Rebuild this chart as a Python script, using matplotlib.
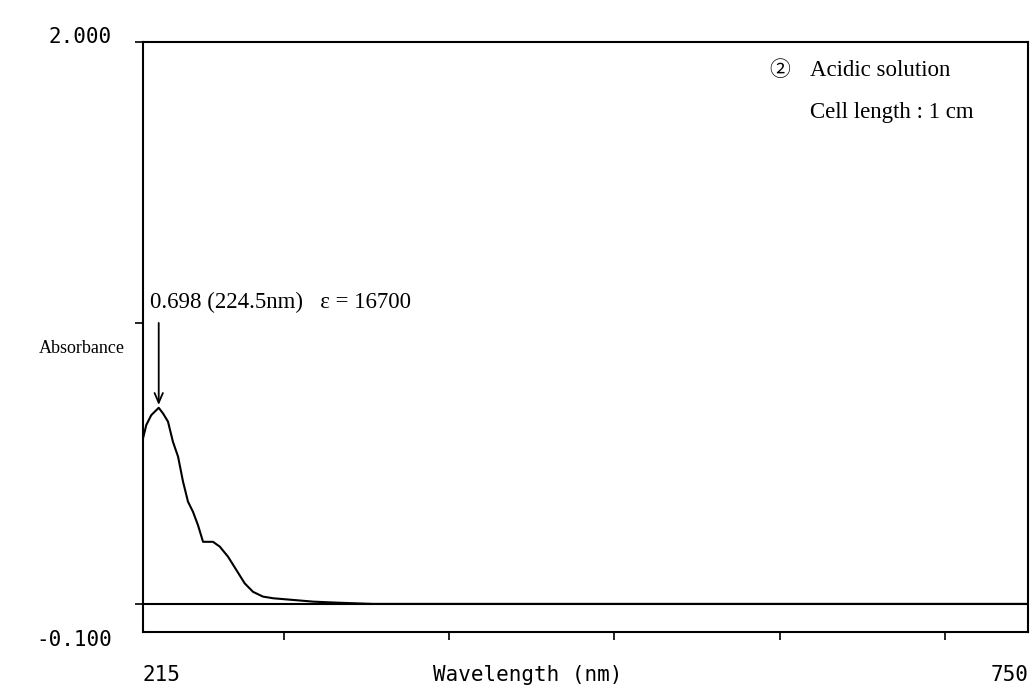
import matplotlib
matplotlib.use("Agg")
import matplotlib.pyplot as plt

# spectrum
wavelength = [215, 217.0, 220.0, 224.5, 227.1, 230.1, 233.1, 236.2, 239.2, 242.2,
              245.2, 248.2, 251.3, 257.3, 261.4, 266.4, 271.4, 276.5, 281.5, 287.5,
              293.8, 305.9, 318, 334, 354, 400, 500, 600, 700, 750]
absorbance = [0.589, 0.637, 0.672, 0.698, 0.678, 0.649, 0.577, 0.524, 0.435, 0.364,
              0.328, 0.281, 0.221, 0.221, 0.204, 0.168, 0.121, 0.073, 0.043, 0.026,
              0.020, 0.014, 0.008, 0.004, 0.0, 0.0, 0.0, 0.0, 0.0, 0.0]

x_min, x_max = 215, 750
y_min, y_max = -0.100, 2.000
x_ticks = [300, 400, 500, 600, 700]
y_ticks = [0.0, 1.0, 2.0]
peak_wl, peak_abs = 224.5, 0.698

mono = "DejaVu Sans Mono"
serif = "Liberation Serif"

fig = plt.figure(figsize=(10.35, 6.89), dpi=100)
ax = fig.add_axes([143 / 1035, 57 / 689, 885 / 1035, 590 / 689])

ax.plot(wavelength, absorbance, color="black", lw=1.5, solid_joinstyle="round")
ax.axhline(0, color="black", lw=1.5)

ax.set_xlim(x_min, x_max)
ax.set_ylim(y_min, y_max)
ax.set_xticks(x_ticks)
ax.set_yticks(y_ticks)
ax.tick_params(axis="both", direction="out", length=6, width=1.2, labelbottom=False, labelleft=False)
for s in ax.spines.values():
    s.set_linewidth(1.5)

# axis end labels in the instrument's mono font
ax.text(-0.035, 1.008, "%.3f" % y_max, transform=ax.transAxes, ha="right", va="center",
        family=mono, fontsize=15)
ax.text(-0.035, -0.0136, "%.3f" % y_min, transform=ax.transAxes, ha="right", va="center",
        family=mono, fontsize=15)
ax.text(0.0, -0.073, str(x_min), transform=ax.transAxes, ha="left", va="center",
        family=mono, fontsize=15)
ax.text(1.0, -0.073, str(x_max), transform=ax.transAxes, ha="right", va="center",
        family=mono, fontsize=15)
ax.text(0.435, -0.073, "Wavelength (nm)", transform=ax.transAxes, ha="center", va="center",
        family=mono, fontsize=15)

ax.text(-0.02, 0.48, "Absorbance", transform=ax.transAxes, ha="right", va="center",
        family=serif, fontsize=13)

# peak annotation
ax.text(219.2, 1.074, "0.698 (224.5nm)   \u03b5 = 16700", ha="left", va="center",
        family=serif, fontsize=16.5)
ax.annotate("", xy=(peak_wl, peak_abs), xytext=(peak_wl, 1.0),
            arrowprops=dict(arrowstyle="->,head_length=0.7,head_width=0.3",
                            color="black", lw=1.3, shrinkA=0, shrinkB=2))

ax.text(0.708, 0.952, "\u2461", transform=ax.transAxes, ha="left", va="center",
        family=["Noto Sans CJK JP", "DejaVu Sans"], fontsize=15)
ax.text(0.754, 0.952, "Acidic solution", transform=ax.transAxes, ha="left", va="center",
        family=serif, fontsize=16.5)
ax.text(0.754, 0.881, "Cell length : 1 cm", transform=ax.transAxes, ha="left", va="center",
        family=serif, fontsize=16.5)

fig.savefig("out.png", dpi=100)
